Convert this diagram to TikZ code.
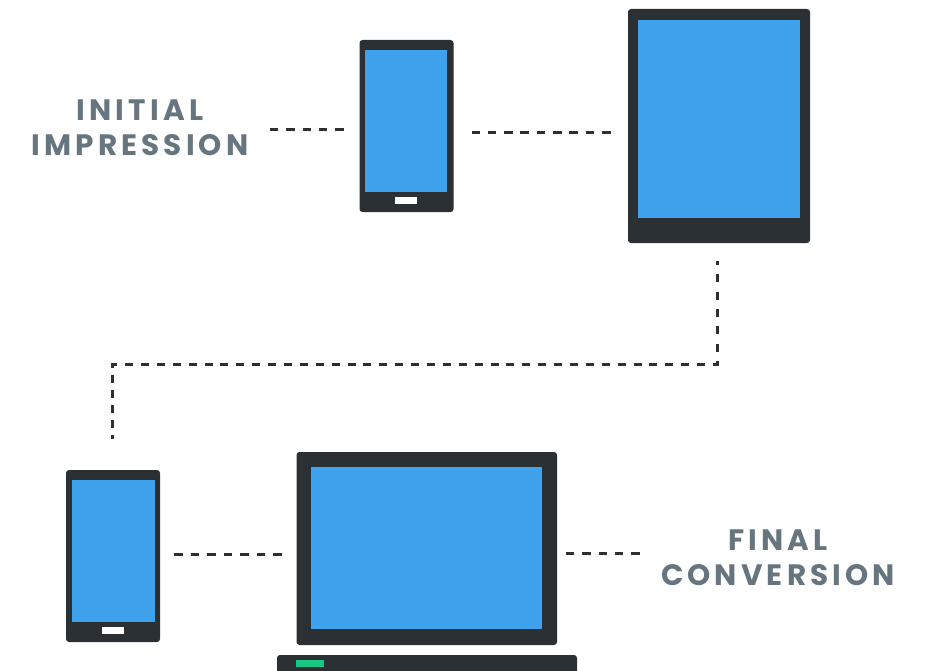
\documentclass[tikz,border=0pt]{standalone}
\usepackage{fontspec}
\setmainfont{Poppins}
\usetikzlibrary{positioning}
\definecolor{darkbody}{HTML}{2B3034}
\definecolor{screenblue}{HTML}{3EA3EC}
\definecolor{labelgrey}{HTML}{67757F}
\definecolor{ledgreen}{HTML}{1BC685}
\newfontfamily\labelfont[LetterSpace=14]{Poppins Bold}
\tikzset{
  body/.style={fill=darkbody,rounded corners=3pt,inner sep=0pt,outer sep=0pt},
  screen/.style={fill=screenblue,inner sep=0pt,outer sep=0pt},
  homekey/.style={fill=white,inner sep=0pt,outer sep=0pt,minimum width=22pt,minimum height=7pt},
  dashline/.style={draw=darkbody,line width=2.8pt,dash pattern=on 8.4pt off 7.9pt},
  caption/.style={text=labelgrey,align=center,font=\labelfont\fontsize{29.5}{35}\selectfont,inner sep=0pt}
}
\begin{document}
\begin{tikzpicture}[x=1pt,y=-1pt]
	\clip (0,0) rectangle (933,671);
	% phone on top
	\node[body,minimum width=94pt,minimum height=172pt] (phoneA) at (406.5,126) {};
	\node[screen,minimum width=82pt,minimum height=142pt] (phoneAscreen) at (406,121) {};
	\node[homekey] (phoneAkey) at (406,200.5) {};
	% tablet
	\node[body,minimum width=182pt,minimum height=234pt] (tablet) at (719,126) {};
	\node[screen,minimum width=162pt,minimum height=198pt] (tabletscreen) at (719,119) {};
	% phone below
	\node[body,minimum width=94pt,minimum height=172pt] (phoneB) at (113,556) {};
	\node[screen,minimum width=83pt,minimum height=142pt] (phoneBscreen) at (113,551) {};
	\node[homekey] (phoneBkey) at (113,630.5) {};
	% laptop
	\node[body,minimum width=260.5pt,minimum height=193pt] (laptop) at (426.75,548.5) {};
	\node[screen,minimum width=231pt,minimum height=162pt] (laptopscreen) at (426.5,548) {};
	\node[body,minimum width=300pt,minimum height=30pt] (laptopbase) at (427,670) {};
	\node[fill=ledgreen,inner sep=0pt,minimum width=28pt,minimum height=7pt] (laptopled) at (310,663.5) {};
	% labels
	\node[caption] (initial) at (140,128) {INITIAL\\IMPRESSION};
	\node[caption] (final) at (778,558) {FINAL\\CONVERSION};
	% dashes
	\coordinate (a1) at (270,129.5);
	\coordinate (a2) at (344.5,129.5);
	\coordinate (b1) at (471.5,132.5);
	\coordinate (b2) at (610.5,132.5);
	\coordinate (c1) at (717.5,261);
	\coordinate (c2) at (717.5,366);
	\coordinate (c3) at (719,364.5);
	\coordinate (c4) at (111.5,364.5);
	\coordinate (c5) at (112.8,363);
	\coordinate (c6) at (112.8,438.5);
	\coordinate (d1) at (174,554.5);
	\coordinate (d2) at (283,554.5);
	\coordinate (e1) at (566,553.5);
	\coordinate (e2) at (641,553.5);
	\draw[dashline] (a1) -- (a2);
	\draw[dashline,dash pattern=on 8.4pt off 7.93pt] (b1) -- (b2);
	\draw[dashline,dash pattern=on 8pt off 9.3pt,dash phase=4pt] (c1) -- (c2);
	\draw[dashline,dash pattern=on 8pt off 7.89pt,dash phase=2pt] (c3) -- (c4);
	\draw[dashline,dash pattern=on 8pt off 7pt,dash phase=3pt] (c5) -- (c6);
	\draw[dashline,dash pattern=on 8.5pt off 8pt] (d1) -- (d2);
	\draw[dashline] (e1) -- (e2);
\end{tikzpicture}
\end{document}
